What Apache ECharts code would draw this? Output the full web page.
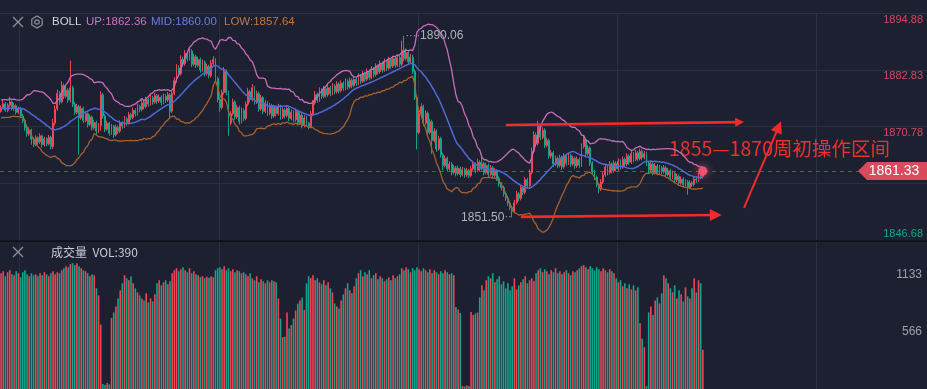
<!DOCTYPE html>
<html><head><meta charset="utf-8">
<script src="https://cdn.jsdelivr.net/npm/echarts@6/dist/echarts.min.js"></script>
<style>html,body{margin:0;padding:0;background:#1c2030;overflow:hidden}#c{width:927px;height:389px}</style>
</head><body><div id="c"></div>
<script>
// closes before the first visible candle (only used for the BOLL window)
const histClose = [1873.2,1874.5,1875.6,1874.1,1873.0,1874.8,1876.0,1875.2,1873.6,1872.8,1874.0,1875.4,1876.2,1874.9,1873.5,1874.2,1875.6,1874.4,1873.9];
// [open, close, low, high]
const ohlc = [
[1874.0,1874.8,1873.7,1875.3],[1874.8,1875.6,1874.5,1876.4],[1875.6,1874.2,1873.9,1876.0],[1874.2,1875.3,1873.8,1875.7],[1875.3,1876.0,1875.0,1877.1],
[1876.0,1874.6,1874.2,1876.3],[1874.6,1875.2,1874.1,1875.8],[1875.2,1873.8,1873.3,1875.5],[1873.8,1874.5,1873.4,1875.0],[1874.5,1873.0,1872.6,1874.9],
[1873.0,1872.1,1871.5,1873.4],[1872.1,1870.5,1869.9,1872.5],[1870.5,1869.2,1868.6,1870.9],[1869.2,1870.0,1868.8,1870.6],[1870.0,1868.1,1866.9,1870.3],
[1868.1,1867.0,1866.4,1868.5],[1867.0,1868.4,1866.6,1868.9],[1868.4,1867.5,1866.8,1868.7],[1867.5,1868.8,1867.1,1869.3],[1868.8,1866.9,1866.3,1869.0],
[1866.9,1868.2,1866.5,1868.6],[1868.2,1867.1,1866.6,1868.5],[1867.1,1868.5,1866.8,1869.0],[1868.5,1866.5,1865.9,1868.8],[1866.5,1871.5,1866.0,1872.4],
[1871.5,1874.5,1871.0,1875.3],[1874.5,1877.8,1874.1,1878.6],[1877.8,1876.0,1875.4,1878.3],[1876.0,1879.5,1875.7,1880.4],[1879.5,1877.2,1876.6,1879.9],
[1877.2,1878.5,1876.8,1879.2],[1878.5,1876.4,1875.8,1878.9],[1876.4,1879.0,1875.9,1884.8],[1879.0,1875.5,1874.9,1879.4],[1875.5,1873.8,1873.2,1876.0],
[1873.8,1875.0,1873.4,1875.6],[1875.0,1872.6,1864.8,1875.4],[1872.6,1874.6,1872.2,1875.2],[1874.6,1872.0,1871.5,1875.0],[1872.0,1873.5,1871.7,1874.1],
[1873.5,1871.2,1870.6,1873.8],[1871.2,1872.8,1870.9,1873.3],[1872.8,1870.5,1869.9,1873.1],[1870.5,1871.6,1870.1,1872.2],[1871.6,1869.8,1869.2,1872.0],
[1869.8,1871.0,1869.4,1871.5],[1871.0,1877.5,1869.9,1878.3],[1877.5,1873.0,1872.4,1877.9],[1873.0,1870.2,1869.6,1873.4],[1870.2,1871.5,1869.9,1872.0],
[1871.5,1869.3,1868.8,1871.8],[1869.3,1870.8,1869.0,1871.3],[1870.8,1869.0,1868.4,1871.1],[1869.0,1870.6,1868.7,1871.2],[1870.6,1869.8,1869.2,1871.0],
[1869.8,1871.5,1869.4,1872.1],[1871.5,1870.9,1870.3,1871.9],[1870.9,1872.4,1870.5,1873.0],[1872.4,1871.6,1871.0,1872.8],[1871.6,1873.3,1871.2,1873.9],
[1873.3,1872.7,1872.1,1873.7],[1872.7,1874.2,1872.3,1874.8],[1874.2,1873.5,1872.9,1874.6],[1873.5,1875.0,1873.1,1875.6],[1875.0,1874.4,1873.8,1875.4],
[1874.4,1875.8,1874.0,1876.4],[1875.8,1875.0,1874.4,1876.2],[1875.0,1876.5,1874.6,1877.1],[1876.5,1875.6,1875.0,1876.9],[1875.6,1876.9,1875.2,1877.5],
[1876.9,1876.0,1875.4,1877.3],[1876.0,1877.3,1875.6,1877.9],[1877.3,1876.2,1875.6,1877.7],[1876.2,1877.0,1875.8,1877.6],[1877.0,1875.9,1875.3,1877.4],
[1875.9,1877.2,1875.5,1877.8],[1877.2,1876.4,1875.8,1877.6],[1876.4,1877.5,1876.0,1878.1],[1877.5,1874.0,1872.5,1877.9],[1874.0,1877.8,1873.6,1878.4],
[1877.8,1880.5,1877.4,1881.3],[1880.5,1883.2,1880.1,1884.0],[1883.2,1882.0,1881.4,1883.8],[1882.0,1885.0,1881.6,1885.9],[1885.0,1884.1,1883.5,1885.6],
[1884.1,1886.3,1883.7,1887.0],[1886.3,1885.2,1884.6,1886.8],[1885.2,1886.8,1884.8,1887.5],[1886.8,1884.0,1883.4,1887.2],[1884.0,1885.6,1883.6,1886.2],
[1885.6,1883.8,1883.2,1886.0],[1883.8,1885.0,1883.4,1885.6],[1885.0,1882.8,1882.2,1885.4],[1882.8,1884.4,1882.4,1885.0],[1884.4,1882.0,1881.4,1884.8],
[1882.0,1883.5,1881.6,1884.1],[1883.5,1881.6,1881.0,1883.9],[1881.6,1884.2,1881.2,1884.9],[1884.2,1885.0,1883.8,1885.7],[1885.0,1881.0,1880.4,1885.3],
[1881.0,1876.5,1875.9,1881.4],[1876.5,1874.8,1873.9,1877.0],[1874.8,1878.0,1874.4,1878.6],[1878.0,1882.5,1877.6,1883.4],[1882.5,1878.0,1877.4,1882.9],
[1878.0,1871.5,1868.8,1878.4],[1871.5,1873.5,1871.0,1874.1],[1873.5,1876.0,1873.1,1876.7],[1876.0,1872.8,1872.2,1876.4],[1872.8,1874.8,1872.4,1875.4],
[1874.8,1871.8,1871.2,1875.2],[1871.8,1874.2,1871.4,1874.8],[1874.2,1872.5,1871.9,1874.6],[1872.5,1875.5,1872.1,1876.1],[1875.5,1878.2,1875.1,1879.0],
[1878.2,1876.5,1875.9,1878.6],[1876.5,1879.0,1876.1,1879.8],[1879.0,1876.0,1875.4,1879.4],[1876.0,1877.8,1875.6,1878.4],[1877.8,1874.5,1873.9,1878.2],
[1874.5,1876.9,1874.1,1877.5],[1876.9,1874.0,1873.4,1877.3],[1874.0,1875.8,1873.6,1876.4],[1875.8,1873.6,1873.0,1876.2],[1873.6,1875.2,1873.2,1875.8],
[1875.2,1873.0,1872.4,1875.6],[1873.0,1874.8,1872.6,1875.4],[1874.8,1873.5,1872.9,1875.2],[1873.5,1875.0,1873.1,1875.6],[1875.0,1872.8,1872.2,1875.4],
[1872.8,1874.3,1872.4,1874.9],[1874.3,1873.1,1872.5,1874.7],[1873.1,1874.6,1872.7,1875.2],[1874.6,1872.5,1871.9,1875.0],[1872.5,1873.8,1872.1,1874.4],
[1873.8,1872.2,1871.6,1874.2],[1872.2,1874.0,1871.8,1874.6],[1874.0,1871.6,1871.0,1874.4],[1871.6,1873.2,1871.2,1873.8],[1873.2,1871.0,1870.4,1873.6],
[1871.0,1872.6,1870.6,1873.2],[1872.6,1871.4,1870.8,1873.0],[1871.4,1870.8,1870.2,1871.8],[1870.8,1873.5,1870.4,1874.1],[1873.5,1875.8,1873.1,1876.4],
[1875.8,1877.6,1875.4,1878.3],[1877.6,1876.4,1875.8,1878.0],[1876.4,1878.5,1876.0,1879.1],[1878.5,1877.2,1876.6,1878.9],[1877.2,1878.8,1876.8,1879.4],
[1878.8,1877.5,1876.9,1879.2],[1877.5,1879.0,1877.1,1879.6],[1879.0,1877.8,1877.2,1879.4],[1877.8,1879.4,1877.4,1880.0],[1879.4,1878.2,1877.6,1879.8],
[1878.2,1879.8,1877.8,1880.4],[1879.8,1878.4,1877.8,1880.2],[1878.4,1880.0,1878.0,1880.6],[1880.0,1878.9,1878.3,1880.4],[1878.9,1880.4,1878.5,1881.0],
[1880.4,1879.2,1878.6,1880.8],[1879.2,1880.6,1878.8,1881.2],[1880.6,1879.5,1878.9,1881.0],[1879.5,1880.8,1879.1,1881.4],[1880.8,1880.0,1879.4,1881.2],
[1880.0,1881.5,1879.6,1882.1],[1881.5,1880.4,1879.8,1881.9],[1880.4,1882.0,1880.0,1882.6],[1882.0,1880.8,1880.2,1882.4],[1880.8,1882.5,1880.4,1883.1],
[1882.5,1881.2,1880.6,1882.9],[1881.2,1883.0,1880.8,1883.6],[1883.0,1881.8,1881.2,1883.4],[1881.8,1883.6,1881.4,1884.2],[1883.6,1882.4,1881.8,1884.0],
[1882.4,1884.2,1882.0,1884.8],[1884.2,1882.8,1882.2,1884.6],[1882.8,1884.6,1882.4,1885.2],[1884.6,1883.2,1882.6,1885.0],[1883.2,1885.0,1882.8,1885.6],
[1885.0,1883.6,1883.0,1885.4],[1883.6,1885.2,1883.2,1885.8],[1885.2,1883.8,1883.2,1885.6],[1883.8,1885.4,1883.4,1886.0],[1885.4,1884.0,1883.4,1885.8],
[1884.0,1887.0,1883.6,1889.0],[1887.0,1885.2,1884.6,1890.06],[1885.2,1886.5,1884.8,1887.4],[1886.5,1884.5,1883.9,1887.0],[1884.5,1885.5,1884.1,1886.2],
[1885.5,1882.5,1881.9,1886.0],[1882.5,1877.0,1876.4,1882.9],[1877.0,1869.5,1865.9,1877.4],[1869.5,1873.5,1869.1,1874.2],[1873.5,1875.0,1873.1,1875.7],
[1875.0,1871.5,1870.9,1875.4],[1871.5,1873.6,1871.1,1874.2],[1873.6,1869.5,1868.9,1874.0],[1869.5,1871.8,1869.1,1872.4],[1871.8,1867.8,1865.0,1872.2],
[1867.8,1869.8,1867.4,1870.4],[1869.8,1866.0,1865.4,1870.2],[1866.0,1868.2,1865.6,1868.8],[1868.2,1864.8,1864.2,1868.6],[1864.8,1862.5,1861.5,1865.2],
[1862.5,1864.0,1862.1,1864.6],[1864.0,1861.8,1861.2,1864.4],[1861.8,1862.8,1861.4,1863.4],[1862.8,1861.0,1860.4,1863.2],[1861.0,1862.0,1860.6,1862.6],
[1862.0,1860.8,1860.2,1862.4],[1860.8,1861.9,1860.4,1862.5],[1861.9,1860.6,1860.0,1862.3],[1860.6,1861.6,1860.2,1862.2],[1861.6,1860.5,1859.9,1862.0],
[1860.5,1861.4,1860.1,1862.0],[1861.4,1860.4,1859.8,1861.8],[1860.4,1861.8,1860.0,1862.4],[1861.8,1862.8,1861.4,1863.5],[1862.8,1861.5,1860.9,1863.2],
[1861.5,1863.2,1861.1,1863.9],[1863.2,1861.8,1861.2,1863.6],[1861.8,1862.9,1861.4,1865.0],[1862.9,1861.0,1860.4,1863.3],[1861.0,1862.5,1860.6,1863.1],
[1862.5,1860.6,1860.0,1862.9],[1860.6,1862.0,1860.2,1862.6],[1862.0,1860.4,1859.8,1862.4],[1860.4,1861.3,1860.0,1861.9],[1861.3,1859.8,1859.2,1861.7],
[1859.8,1858.6,1858.0,1860.2],[1858.6,1857.8,1857.2,1859.0],[1857.8,1856.5,1855.9,1858.2],[1856.5,1855.6,1855.0,1856.9],[1855.6,1854.5,1853.9,1856.0],
[1854.5,1853.6,1853.0,1854.9],[1853.6,1852.8,1851.5,1854.0],[1852.8,1854.6,1852.4,1855.2],[1854.6,1856.5,1854.2,1857.1],[1856.5,1855.5,1854.9,1856.9],
[1855.5,1857.8,1855.1,1858.4],[1857.8,1856.8,1856.2,1858.2],[1856.8,1859.5,1856.4,1860.1],[1859.5,1858.2,1857.6,1859.9],[1858.2,1861.0,1857.8,1861.7],
[1861.0,1865.5,1860.6,1866.3],[1865.5,1869.0,1865.1,1869.8],[1869.0,1867.2,1866.6,1869.5],[1867.2,1870.8,1866.8,1872.0],[1870.8,1868.5,1867.9,1871.2],
[1868.5,1870.0,1868.1,1870.6],[1870.0,1866.8,1866.2,1870.4],[1866.8,1867.8,1866.4,1868.4],[1867.8,1864.5,1863.9,1868.2],[1864.5,1865.2,1864.0,1865.8],
[1865.2,1862.8,1862.2,1865.6],[1862.8,1864.0,1862.4,1864.6],[1864.0,1862.5,1861.9,1864.4],[1862.5,1864.2,1862.1,1864.8],[1864.2,1862.2,1861.6,1864.6],
[1862.2,1864.5,1861.8,1865.1],[1864.5,1863.0,1862.4,1864.9],[1863.0,1864.6,1862.6,1865.2],[1864.6,1862.8,1862.2,1865.0],[1862.8,1864.0,1862.4,1864.6],
[1864.0,1862.4,1861.8,1864.4],[1862.4,1863.8,1862.0,1864.4],[1863.8,1862.6,1862.0,1864.2],[1862.6,1866.5,1862.2,1867.2],[1866.5,1868.0,1866.1,1869.0],
[1868.0,1865.0,1864.4,1868.4],[1865.0,1866.2,1864.6,1866.8],[1866.2,1863.0,1862.4,1866.6],[1863.0,1861.2,1860.6,1863.4],[1861.2,1860.0,1859.4,1861.6],
[1860.0,1858.5,1857.9,1860.4],[1858.5,1857.5,1856.6,1858.9],[1857.5,1859.0,1857.1,1859.6],[1859.0,1860.5,1858.6,1861.1],[1860.5,1862.2,1860.1,1862.8],
[1862.2,1861.0,1860.4,1862.6],[1861.0,1862.8,1860.6,1863.4],[1862.8,1861.4,1860.8,1863.2],[1861.4,1863.0,1861.0,1863.6],[1863.0,1861.8,1861.2,1863.4],
[1861.8,1863.4,1861.4,1864.0],[1863.4,1862.2,1861.6,1863.8],[1862.2,1863.8,1861.8,1864.4],[1863.8,1862.8,1862.2,1864.2],[1862.8,1864.5,1862.4,1865.1],
[1864.5,1863.2,1862.6,1864.9],[1863.2,1865.0,1862.8,1865.6],[1865.0,1863.8,1863.2,1865.4],[1863.8,1865.2,1863.4,1865.8],[1865.2,1864.0,1863.4,1865.6],
[1864.0,1865.5,1863.6,1866.1],[1865.5,1864.2,1863.6,1865.9],[1864.2,1865.0,1863.8,1865.6],[1865.0,1863.0,1862.4,1865.4],[1863.0,1861.5,1860.9,1863.4],
[1861.5,1862.8,1861.1,1863.4],[1862.8,1861.0,1860.4,1863.2],[1861.0,1862.4,1860.6,1863.0],[1862.4,1861.0,1860.4,1862.8],[1861.0,1862.0,1860.6,1862.6],
[1862.0,1861.2,1860.6,1862.4],[1861.2,1862.0,1860.8,1862.6],[1862.0,1860.6,1860.0,1862.4],[1860.6,1861.4,1860.2,1862.0],[1861.4,1860.0,1859.4,1861.8],
[1860.0,1860.8,1859.6,1861.4],[1860.8,1859.4,1858.8,1861.2],[1859.4,1860.2,1859.0,1860.8],[1860.2,1858.8,1858.2,1860.6],[1858.8,1859.6,1858.4,1860.2],
[1859.6,1858.4,1857.8,1860.0],[1858.4,1859.0,1858.0,1859.6],[1859.0,1857.9,1856.3,1859.4],[1857.9,1858.8,1857.5,1859.4],[1858.8,1858.5,1857.9,1859.2],
[1858.5,1859.6,1858.1,1860.2],[1859.6,1859.4,1858.8,1860.0],[1859.4,1860.4,1859.0,1861.0],[1860.4,1860.2,1859.6,1860.8],[1860.2,1861.33,1859.8,1861.6]
];
const volume = [
1150,1170,1120,1160,1180,1140,1130,1170,1150,1110,1160,1180,1140,1120,1150,1130,
1140,1120,1150,1130,1160,1140,1120,1150,1170,1140,1160,1150,
1180,1200,1220,1210,1240,1250,1230,1250,1220,1200,1180,1170,
1150,1120,1140,1130,
1000,930,640,50,40,60,45,
705,760,820,900,980,1050,1130,
1100,1080,1120,1050,1000,960,930,900,880,
950,860,900,870,940,
1050,1080,1030,1060,1080,1040,1070,
1150,1180,1200,1170,1190,1210,1180,1160,1200,1150,1170,1140,1130,
1110,1120,1100,1115,1105,1120,1110,
1180,1200,1210,1190,1220,1180,1200,1170,1190,1160,1180,1170,1150,1160,
1140,1120,1150,1100,1080,1120,1060,1090,1070,1050,1080,1060,
1080,1070,1060,
900,700,516,520,
760,600,
635,700,780,850,880,
910,785,
1050,1120,1100,1130,1080,1100,1060,1040,1080,1030,1060,1000,
960,850,820,800,880,940,
1000,1050,980,950,1020,
1100,1150,1180,1120,1160,1140,1180,1100,1130,1150,1090,1120,
1100,1070,1090,1110,1080,1130,1100,1120,1140,
1200,1180,1210,1190,1160,1200,1180,1210,1190,1170,1200,1180,1160,1190,1150,1180,1160,1140,1170,1150,1180,1160,1140,1150,1130,
815,790,755,
30,25,35,30,
765,735,750,760,
910,1030,980,
1080,1120,1100,1150,1060,1090,1120,1040,1070,
1000,1050,980,1020,1100,990,1030,
1060,1090,1120,1050,1080,1100,1070,
1150,1180,1200,1160,1190,1170,1140,1180,1160,1200,1150,1170,1140,1160,1180,1150,1130,1170,1160,
1180,1200,1220,1230,1210,1190,1220,1200,1180,1210,1190,1170,1200,1180,1160,1190,1170,1150,
1100,1060,1080,1020,1050,1000,1040,990,1030,980,1010,
655,500,415,
30,
760,820,735,880,910,850,
950,1130,1100,1050,
1000,960,1030,900,980,940,870,1010,920,
900,1000,1100,960,1080,1050,390
];
const slotCount = 428;                       // candle slots across the full width
const categories = Array.from({length: slotCount}, (_, i) => 'K' + i);
const priceTicks = [1846.68, 1858.73, 1870.78, 1882.83, 1894.88];
const hiddenPriceTick = 1858.73;             // covered by the current price tag
const volTicks = [566, 1133];
const lastPrice = 1861.33;
const bollHeader = { up: 1862.36, mid: 1860.00, low: 1857.64 };
const volHeader = 390;
// hand-drawn arrows: [fromIndex, fromPrice], [toIndex, toPrice]
const arrows = [
  [[233, 1871.1], [341, 1871.7]],
  [[240, 1851.6], [330, 1852.0]],
  [[343, 1853.5], [359, 1870.7]]
];
const noteText = '1855\u20141870周初操作区间';

// ---- BOLL(20,2) from the closes ----
const allClose = histClose.concat(ohlc.map(d => d[1]));
const N = 20, K = 2;
const bollUp = [], bollMid = [], bollLow = [];
for (let i = histClose.length; i < allClose.length; i++) {
  const w = allClose.slice(i - N + 1, i + 1);
  const m = w.reduce((a, b) => a + b, 0) / N;
  const sd = Math.sqrt(w.reduce((a, b) => a + (b - m) * (b - m), 0) / N);
  bollMid.push(+m.toFixed(2)); bollUp.push(+(m + K * sd).toFixed(2)); bollLow.push(+(m - K * sd).toFixed(2));
}

const UPC = '#ef4555', DNC = '#11a68a';
const GRID = '#2a3041';
const FONT = '"Liberation Sans", "Noto Sans CJK SC", sans-serif';
const splitEvery = (i) => i >= 9 && (i - 9) % 92 === 0;

const chart = echarts.init(document.getElementById('c'), null, {renderer: 'canvas'});
const option = {
  backgroundColor: '#1c2030',
  animation: false,
  textStyle: { fontFamily: FONT },
  grid: [
    { left: 0, right: 0, top: 10, height: 230 },
    { left: 0, right: 0, top: 241, height: 148 }
  ],
  xAxis: [
    { type: 'category', gridIndex: 0, data: categories, boundaryGap: true,
      axisLine: {show: false}, axisTick: {show: false}, axisLabel: {show: false},
      splitLine: {show: true, interval: splitEvery, lineStyle: {color: GRID, width: 1}} },
    { type: 'category', gridIndex: 1, data: categories, boundaryGap: true,
      axisLine: {show: false}, axisTick: {show: false}, axisLabel: {show: false},
      splitLine: {show: true, interval: splitEvery, lineStyle: {color: GRID, width: 1}} }
  ],
  yAxis: [
    { type: 'value', gridIndex: 0, position: 'right', scale: true,
      min: priceTicks[0], max: priceTicks[priceTicks.length - 1], interval: 12.05,
      axisLine: {show: false}, axisTick: {show: false},
      splitLine: {show: true, lineStyle: {color: GRID, width: 1}},
      axisLabel: { inside: true, margin: 4, fontSize: 11, lineHeight: 13, verticalAlign: 'middle',
        fontFamily: FONT,
        color: (v) => (Number(v) > lastPrice ? '#d04a5e' : '#1ea389'),
        formatter: (v) => {
          if (Math.abs(v - hiddenPriceTick) < 0.01) return '';
          const t = v.toFixed(2);
          return Math.abs(v - priceTicks[0]) < 0.01 ? t + '\n' : '\n' + t;
        } } },
    { type: 'value', gridIndex: 1, position: 'right', min: 0, max: 1470, interval: 566.5,
      axisLine: {show: false}, axisTick: {show: false}, splitLine: {show: false},
      axisLabel: { inside: true, margin: 5, fontSize: 12, color: '#9ba1ac', verticalAlign: 'middle',
        formatter: (v) => { const n = Math.floor(v); return volTicks.includes(n) ? String(n) : ''; } } }
  ],
  series: [
    { type: 'candlestick', name: 'K', xAxisIndex: 0, yAxisIndex: 0, data: ohlc, barWidth: 1.4,
      itemStyle: { color: UPC, color0: DNC, borderColor: UPC, borderColor0: DNC, borderWidth: 1 },
      markPoint: {
        symbol: 'circle', symbolSize: 1, itemStyle: {color: 'rgba(0,0,0,0)'}, silent: true,
        data: [
          { type: 'max', valueDim: 'highest',
            label: { show: true, position: 'right', distance: 1,
              formatter: (p) => '{d|\u00b7\u00b7\u00b7\u00b7}{v|' + Number(p.value).toFixed(2) + '}',
              rich: { d: {color: '#9aa0ab', fontSize: 11}, v: {color: '#aeb3bd', fontSize: 12, fontFamily: FONT} } } },
          { type: 'min', valueDim: 'lowest',
            label: { show: true, position: 'left', distance: 0,
              formatter: (p) => '{v|' + Number(p.value).toFixed(2) + '}{d|\u00b7\u00b7}',
              rich: { d: {color: '#9aa0ab', fontSize: 11}, v: {color: '#aeb3bd', fontSize: 12, fontFamily: FONT} } } }
        ]
      },
      markLine: {
        silent: true, symbol: ['none', 'none'], label: {show: false}, animation: false,
        data: [
          { yAxis: lastPrice, lineStyle: {color: 'rgba(214,78,98,0.65)', type: [4, 4], width: 1} }
        ].concat(arrows.map((a, k) => [
          { coord: a[0], symbol: 'none', lineStyle: {color: '#f02b2b', width: k === 2 ? 2 : 2.6, type: 'solid'} },
          { coord: a[1], symbol: 'triangle', symbolSize: k === 0 ? 9 : 12 }
        ]))
      }
    },
    { type: 'line', name: 'UP', data: bollUp, xAxisIndex: 0, yAxisIndex: 0, symbol: 'none',
      lineStyle: {color: '#c96cbb', width: 1.3}, silent: true },
    { type: 'line', name: 'MID', data: bollMid, xAxisIndex: 0, yAxisIndex: 0, symbol: 'none',
      lineStyle: {color: '#5068d8', width: 1.5}, silent: true },
    { type: 'line', name: 'LOW', data: bollLow, xAxisIndex: 0, yAxisIndex: 0, symbol: 'none',
      lineStyle: {color: '#a8602f', width: 1.3}, silent: true },
    { type: 'scatter', xAxisIndex: 0, yAxisIndex: 0, data: [[ohlc.length - 1, lastPrice]],
      symbolSize: 9, itemStyle: {color: '#ee5a72', shadowBlur: 8, shadowColor: '#ee5a72', opacity: 0.9}, silent: true, z: 5 },
    { type: 'bar', name: 'VOL', xAxisIndex: 1, yAxisIndex: 1, data: volume, barWidth: 1.6,
      itemStyle: { color: (p) => (ohlc[p.dataIndex][1] >= ohlc[p.dataIndex][0] ? UPC : DNC) }, silent: true }
  ]
};
chart.setOption(option);

// ---- overlay texts / icons ----
const py = chart.convertToPixel({yAxisIndex: 0}, lastPrice);
const iconStroke = '#8c929e';
function cross(cx, cy) {
  return [
    { type: 'line', shape: {x1: cx - 5, y1: cy - 5, x2: cx + 5, y2: cy + 5}, style: {stroke: iconStroke, lineWidth: 1.3} },
    { type: 'line', shape: {x1: cx - 5, y1: cy + 5, x2: cx + 5, y2: cy - 5}, style: {stroke: iconStroke, lineWidth: 1.3} }
  ];
}
const hex = [];
for (let k = 0; k < 6; k++) { const a = Math.PI / 6 + k * Math.PI / 3; hex.push([37 + 6 * Math.cos(a), 22 + 6 * Math.sin(a)]); }
const hdrFont = (c) => ({ fill: c, font: '11.5px ' + FONT, textVerticalAlign: 'middle' });
const graphic = [].concat(
  cross(18, 22),
  [ { type: 'polygon', shape: {points: hex}, style: {fill: 'none', stroke: iconStroke, lineWidth: 1.2} },
    { type: 'circle', shape: {cx: 37, cy: 22, r: 2.2}, style: {fill: 'none', stroke: iconStroke, lineWidth: 1.2} },
    { type: 'text', x: 52, y: 22, style: Object.assign({text: 'BOLL'}, hdrFont('#d2d5dc')) },
    { type: 'text', x: 86, y: 22, style: Object.assign({text: 'UP:' + bollHeader.up.toFixed(2)}, hdrFont('#d46fc4')) },
    { type: 'text', x: 151, y: 22, style: Object.assign({text: 'MID:' + bollHeader.mid.toFixed(2)}, hdrFont('#6a7ce6')) },
    { type: 'text', x: 224, y: 22, style: Object.assign({text: 'LOW:' + bollHeader.low.toFixed(2)}, hdrFont('#c6763f')) },
    { type: 'line', shape: {x1: 0, y1: 241, x2: 927, y2: 241}, style: {stroke: '#0c0e14', lineWidth: 1.5} }
  ],
  cross(18, 252),
  [ { type: 'text', x: 51, y: 252, style: {text: '成交量  VOL:' + volHeader, fill: '#c9ccd3', font: '12px "Noto Sans CJK SC", sans-serif', textVerticalAlign: 'middle'} },
    { type: 'polygon', z: 20, shape: {points: [[858, py], [867, py - 9], [927, py - 9], [927, py + 9], [867, py + 9]]}, style: {fill: '#d94a5d'} },
    { type: 'text', z: 21, x: 894, y: py, style: {text: lastPrice.toFixed(2), fill: '#ffffff', font: '14px ' + FONT, textAlign: 'center', textVerticalAlign: 'middle'} },
    { type: 'text', z: 3, x: 669, y: 149, style: {text: noteText, fill: '#f0302c', font: '19.5px "Noto Sans CJK SC", sans-serif', textVerticalAlign: 'middle'} }
  ]
);
chart.setOption({ graphic: graphic });
</script>
</body></html>
